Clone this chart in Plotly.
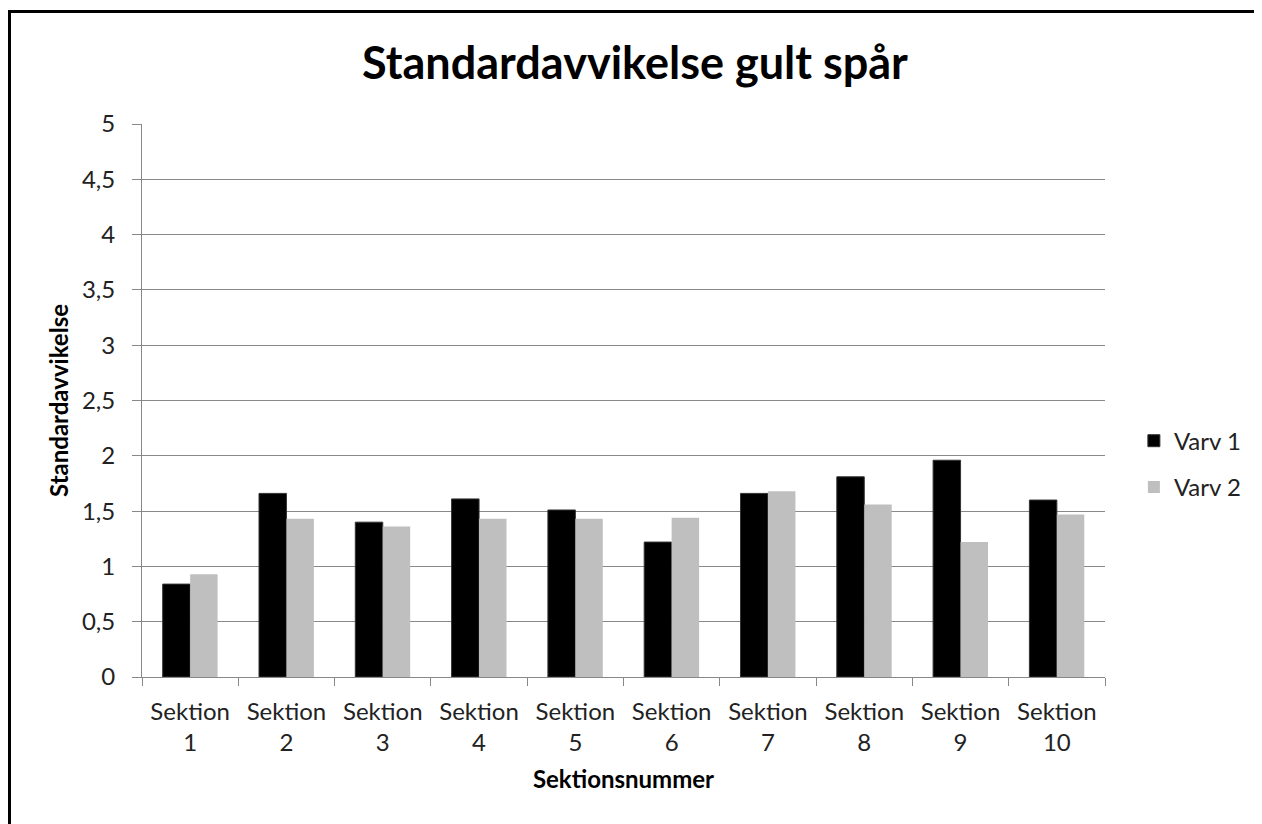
import plotly.graph_objects as go

categories = [f"Sektion<br>{i}" for i in range(1, 11)]
varv1 = [0.84, 1.66, 1.40, 1.61, 1.51, 1.22, 1.66, 1.81, 1.96, 1.60]
varv2 = [0.93, 1.43, 1.36, 1.43, 1.43, 1.44, 1.68, 1.56, 1.22, 1.47]
ytickvals = [0, 0.5, 1, 1.5, 2, 2.5, 3, 3.5, 4, 4.5, 5]
yticktext = ["0", "0,5", "1", "1,5", "2", "2,5", "3", "3,5", "4", "4,5", "5"]

FONT = "Lato"
OFF = 8  # page body margin
W, H = 1262 - OFF, 824 - OFF
L, R, T, B = 142 - OFF, 1105 - OFF, 124 - OFF, 677 - OFF

fig = go.Figure()
fig.add_trace(go.Bar(x=categories, y=varv1, name="Varv 1", legendgroup="a",
                     marker=dict(color="#000000", line=dict(color="#333333", width=1))))
fig.add_trace(go.Bar(x=categories, y=varv2, name="Varv 2", legendgroup="b",
                     marker=dict(color="#BFBFBF", line=dict(width=0))))

pw, ph = R - L, B - T
fig.add_shape(type="rect", xref="paper", yref="paper",
              x0=(1.5 - L) / pw, x1=(W + 20 - L) / pw,
              y0=(B - (H + 20)) / ph, y1=(B - 3.5) / ph,
              line=dict(color="black", width=3), fillcolor="rgba(0,0,0,0)", layer="below")

fig.update_layout(
    width=W, height=H,
    margin=dict(l=L, r=W - R, t=T, b=H - B, autoexpand=False),
    paper_bgcolor="white", plot_bgcolor="white",
    font=dict(family=FONT, size=24, color="#222222"),
    title=dict(text="<b>Standardavvikelse gult spår</b>", x=0.5, xanchor="center",
               y=1 - 55 / H, yanchor="middle", font=dict(size=45, color="#000000")),
    barmode="group", bargap=0.43, bargroupgap=0,
    legend=dict(x=1.030, y=0.385, xanchor="left", yanchor="middle",
                font=dict(size=24, color="#222222"), tracegroupgap=12,
                traceorder="grouped", itemwidth=30),
    showlegend=True,
)
fig.update_xaxes(
    showline=True, linecolor="#888888", linewidth=1,
    ticks="outside", ticklen=8, tickcolor="#888888",
    tickson="boundaries", showgrid=False, ticklabelstandoff=13,
    tickfont=dict(size=24, color="#222222"),
    title=dict(text="<b>Sektionsnummer</b>", font=dict(size=24, color="#000000"), standoff=16),
)
fig.update_yaxes(
    range=[0, 5], tickvals=ytickvals, ticktext=yticktext,
    showline=True, linecolor="#888888", linewidth=1,
    ticks="outside", ticklen=9, tickcolor="#888888", ticklabelstandoff=12,
    showgrid=True, gridcolor="#888888", gridwidth=1, zeroline=False,
    tickfont=dict(size=24, color="#222222"),
    title=dict(text="<b>Standardavvikelse</b>", font=dict(size=24, color="#000000"), standoff=6),
)

fig.write_html("out.html")
